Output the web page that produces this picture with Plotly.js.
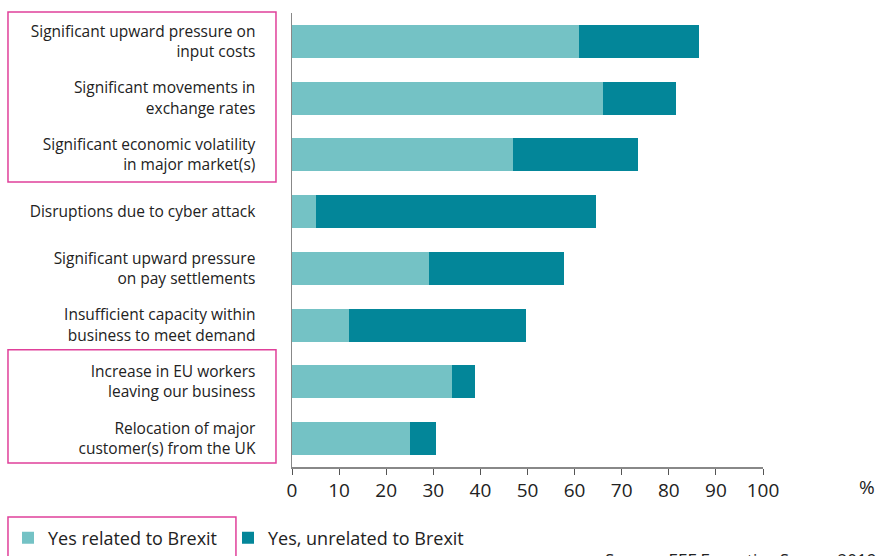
<!DOCTYPE html>
<html>
<head>
<meta charset="utf-8">
<script src="https://cdn.plot.ly/plotly-3.0.1.min.js"></script>
<style>html,body{margin:0;padding:0;background:#fff;}#chart{width:877px;height:556px;}</style>
</head>
<body>
<div id="chart"></div>
<script>
var categories = [
  "Significant upward pressure on<br>input costs",
  "Significant movements in<br>exchange rates",
  "Significant economic volatility<br>in major market(s)",
  "Disruptions due to cyber attack",
  "Significant upward pressure<br>on pay settlements",
  "Insufficient capacity within<br>business to meet demand",
  "Increase in EU workers<br>leaving our business",
  "Relocation of major<br>customer(s) from the UK"
];
var relatedBrexit = [61, 66, 47, 5, 29, 12, 34, 25];
var unrelatedBrexit = [25.5, 15.5, 26.5, 59.6, 28.7, 37.6, 4.8, 5.5];
var tickValues = [0, 10, 20, 30, 40, 50, 60, 70, 80, 90, 100];
var seriesNames = ["Yes related to Brexit", "Yes, unrelated to Brexit"];

var FONT = "Open Sans, Lato, sans-serif";
var traces = [
  {type: "bar", orientation: "h", name: seriesNames[0], y: categories, x: relatedBrexit,
   marker: {color: "#74c2c5"}, hoverinfo: "x+name", legend: "legend"},
  {type: "bar", orientation: "h", name: seriesNames[1], y: categories, x: unrelatedBrexit,
   marker: {color: "#038699"}, hoverinfo: "x+name", legend: "legend2"}
];
var pink = "#e0409a";
function legendAt(xpx) {
  return {orientation: "h", xref: "container", yref: "container",
          x: xpx / 877, xanchor: "left", y: 0.0324, yanchor: "middle",
          font: {size: 18, family: FONT, color: "#222"},
          bgcolor: "rgba(0,0,0,0)", itemclick: false};
}
var layout = {
  width: 877, height: 556,
  margin: {l: 292, r: 114, t: 13, b: 89},
  barmode: "stack",
  bargap: 0.42,
  paper_bgcolor: "#fff", plot_bgcolor: "#fff",
  font: {family: FONT, color: "#222"},
  showlegend: true,
  legend: legendAt(8),
  legend2: legendAt(228),
  xaxis: {range: [0, 100], tickvals: tickValues, ticktext: tickValues.map(String),
          showgrid: false, zeroline: false, showline: true, linecolor: "#888", linewidth: 1.5,
          ticks: "outside", ticklen: 6, tickcolor: "#555", tickwidth: 1,
          ticklabelstandoff: 0,
          tickfont: {size: 19, family: FONT, color: "#222"}, fixedrange: true},
  yaxis: {type: "category", autorange: "reversed", showgrid: false, zeroline: false,
          showline: true, linecolor: "#888", linewidth: 1.5, ticks: "",
          ticklabelstandoff: 32,
          tickfont: {size: 15.5, family: FONT, color: "#222"}, fixedrange: true},
  shapes: [
    {type: "rect", xref: "paper", yref: "paper", x0: -0.603, x1: -0.034, y0: 0.628, y1: 1.002,
     line: {color: pink, width: 1.5}},
    {type: "rect", xref: "paper", yref: "paper", x0: -0.603, x1: -0.034, y0: 0.009, y1: 0.258,
     line: {color: pink, width: 1.5}},
    {type: "rect", xref: "paper", yref: "paper", x0: -0.603, x1: -0.119, y0: -0.110, y1: -0.25,
     line: {color: pink, width: 1.5}}
  ],
  annotations: [
    {text: "%", xref: "paper", yref: "paper", x: 1.221, y: -0.044, xanchor: "center", yanchor: "middle",
     showarrow: false, font: {size: 19, family: FONT, color: "#222"}},
    {text: "Source: EEF Executive Survey 2019", xref: "paper", yref: "paper", x: 0.66, y: -0.174,
     xanchor: "left", yanchor: "top", showarrow: false,
     font: {size: 17, family: FONT, color: "#222"}}
  ]
};
Plotly.newPlot("chart", traces, layout, {displayModeBar: false, staticPlot: true});
</script>
</body>
</html>
